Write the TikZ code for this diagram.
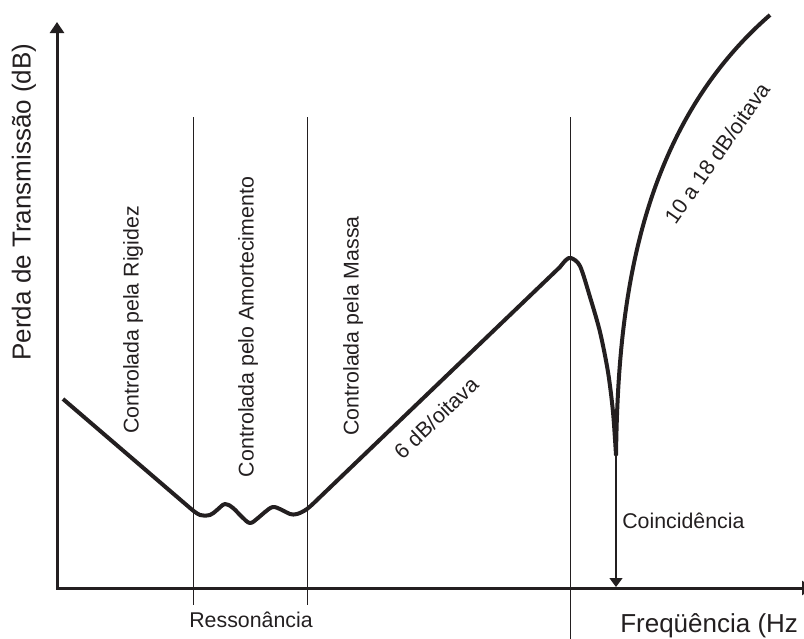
\documentclass[tikz,border=0pt]{standalone}
\usepackage{fontspec}
\setmainfont{Liberation Sans}
\usetikzlibrary{arrows.meta}
\definecolor{ink}{HTML}{231F20}
\begin{document}
\begin{tikzpicture}[x=0.75pt,y=-0.75pt,
  axis/.style={ink, line width=2.25pt},
  thinline/.style={ink, line width=0.75pt},
  curve/.style={ink, line width=3pt, line join=round},
  lbl/.style={inner sep=0pt, font=\fontsize{16}{19}\selectfont, text=ink},
  biglbl/.style={inner sep=0pt, font=\fontsize{19.5}{23}\selectfont, text=ink}]
\useasboundingbox (0,0) rectangle (804,639);
% axes
\coordinate (O) at (57,588);
\coordinate (ytip) at (57,22);
\coordinate (xtip) at (813,588);
\draw[axis, {Triangle[length=8.25pt,width=10.5pt]}-{Triangle[length=8.25pt,width=10.5pt]}] (ytip) -- (O) -- (xtip);
% vertical region lines
\coordinate (r1t) at (193,117); \coordinate (r1b) at (193,605);
\coordinate (r2t) at (307,117); \coordinate (r2b) at (307,605);
\coordinate (c1t) at (570,117); \coordinate (c1b) at (570,645);
\draw[thinline] (r1t) -- (r1b);
\draw[thinline] (r2t) -- (r2b);
\draw[thinline] (c1t) -- (c1b);
% coincidence arrow
\coordinate (cusp) at (616,455);
\coordinate (cax) at (616,587);
\coordinate (top) at (770,15);
\draw[ink, line width=1pt, -{Triangle[length=6.75pt,width=9.75pt]}] (cusp) -- (cax);
% curve
\draw[curve] (63,399) -- plot[smooth, tension=0.6] coordinates {(190,508) (200,515) (210,515) (217,510) (225,504) (233,508) (242,517) (250,523) (258,518) (265,512) (273,507) (282,510) (290,514) (297,514) (307,509) (318,499)}
  -- plot[smooth] coordinates {(560,267) (566,260) (571,258) (580,266) (590,297) (600,332) (608,372) (613,412) (616,455)}
  .. controls (618,320) and (632,135) .. (top);
% labels
\node[biglbl, rotate=90] (ylab) at (24,202) {Perda de Transmissão (dB)};
\node[biglbl, anchor=base west] (xlab) at (620,632) {Freqüência (Hz};
\node[lbl, rotate=90] (rig) at (133,320) {Controlada pela Rigidez};
\node[lbl, rotate=90] (amo) at (248,327) {Controlada pelo Amortecimento};
\node[lbl, rotate=90] (mas) at (353,326) {Controlada pela Massa};
\node[lbl, rotate=43.5] (six) at (436,418) {6 dB/oitava};
\node[lbl, rotate=55] (ten) at (717,153) {10 a 18 dB/oitava};
\node[lbl, anchor=base] (res) at (251,627) {Ressonância};
\node[lbl, anchor=base west] (coi) at (622,528) {Coincidência};
\end{tikzpicture}
\end{document}
